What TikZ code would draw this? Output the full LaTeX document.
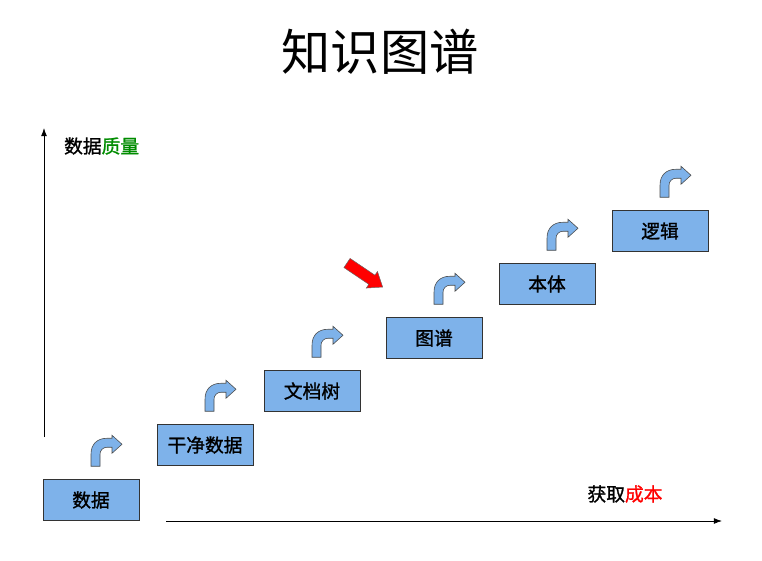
\documentclass[tikz,border=0pt]{standalone}
\usepackage{fontspec}
\newfontfamily\cjk{Noto Sans CJK SC}
\newfontfamily\cjkmid[FakeBold=1.2]{Noto Sans CJK SC}
\usetikzlibrary{arrows.meta, positioning, calc}
\definecolor{stepblue}{RGB}{126,178,234}
\definecolor{qualgreen}{RGB}{0,140,0}
\colorlet{costred}{red}

\begin{document}
\begin{tikzpicture}[x=0.03cm, y=-0.03cm,
    stagebox/.style={draw=black!80, fill=stepblue, inner sep=0pt,
      minimum width=2.88cm, minimum height=1.23cm,
      font=\cjkmid\fontsize{16}{18}\selectfont},
    axislabel/.style={font=\cjkmid\fontsize{16}{18}\selectfont},
    bendup/.pic={
      \filldraw[fill=stepblue, draw=black!70, line width=0.5pt]
        (0,0) -- (0,-12) .. controls (0,-22) and (6,-28) .. (16,-28)
        -- (21,-28) -- (21,-31) -- (31,-22) -- (21,-13) -- (21,-19)
        -- (16,-19) .. controls (12,-19) and (9,-16) .. (9,-12)
        -- (9,0) -- cycle;
    }]
  \useasboundingbox (0,0) rectangle (762,560);

  \node[font=\cjk\fontsize{42}{48}\selectfont] (title) at (380,52) {知识图谱};

  % axes
  \coordinate (yfoot) at (44,437);
  \coordinate (ytop) at (44,128);
  \coordinate (xfoot) at (166,521);
  \coordinate (xend) at (722,521);
  \draw[line width=0.6pt, -{Latex[length=7pt, width=5pt]}] (yfoot) -- (ytop);
  \draw[line width=0.6pt, -{Latex[length=7pt, width=5pt]}] (xfoot) -- (xend);
  \node[axislabel, anchor=west] (quality) at (60,146) {数据\textcolor{qualgreen}{质量}};
  \node[axislabel] (cost) at (625,494) {获取\textcolor{costred}{成本}};

  % stages
  \node[stagebox] (shuju) at (91,500) {数据};
  \node[stagebox] (ganjing) at (205,445) {干净数据};
  \node[stagebox] (wendang) at (312,391) {文档树};
  \node[stagebox] (tupu) at (434,338) {图谱};
  \node[stagebox] (benti) at (547,284) {本体};
  \node[stagebox] (luoji) at (660,231) {逻辑};

  \foreach \s in {shuju, ganjing, wendang, tupu, benti, luoji}
    \pic at ($(\s.north)+(0,-13)$) {bendup};

  % pointer
  \begin{scope}[shift={(347,263)}, rotate=-34]
    \filldraw[fill=red, draw=black!60, line width=0.4pt]
      (0,-5.5) -- (30,-5.5) -- (30,-10) -- (43,0) -- (30,10) -- (30,5.5)
      -- (0,5.5) -- cycle;
  \end{scope}
\end{tikzpicture}
\end{document}
